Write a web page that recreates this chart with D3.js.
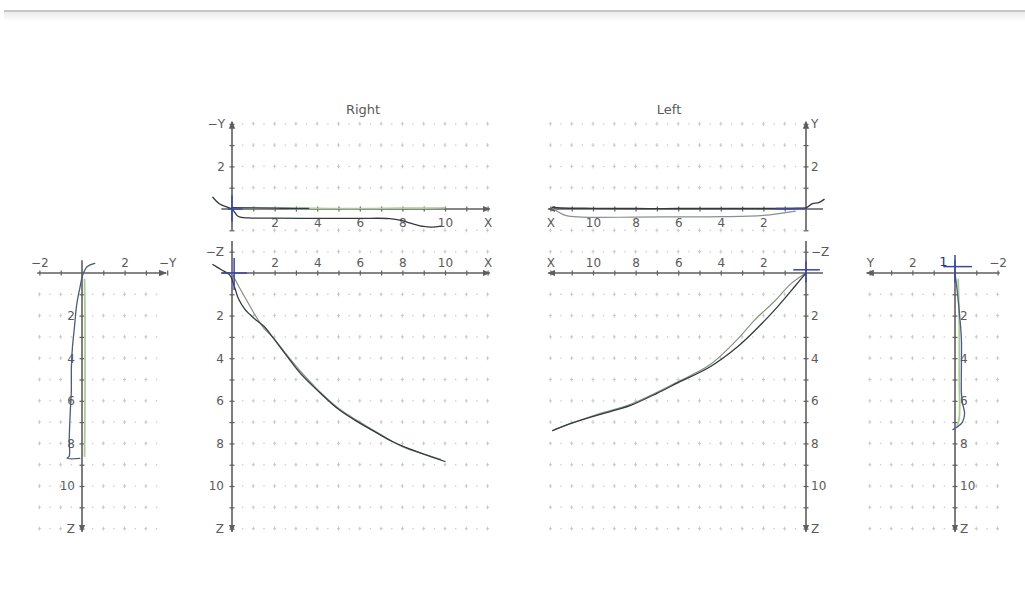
<!DOCTYPE html>
<html><head><meta charset="utf-8">
<script src="https://cdn.jsdelivr.net/npm/d3@7"></script>
<style>html,body{margin:0;padding:0;background:#fff;}svg{display:block;}</style>
</head><body>
<svg id="c" width="1025" height="613"></svg>
<script>
// ---------- data (panel units: h = horizontal coordinate, v = vertical coordinate) ----------
const titles = ["Right", "Left"];
// Right, X–Y view
const rightXY_dark_h = [-0.9,-0.6,-0.25,0,0.3,0.8,2,4,6,7.4,8.0,8.5,9.0,9.4,9.8];
const rightXY_dark_v = [0.55,0.25,0.1,0,-0.35,-0.42,-0.43,-0.44,-0.44,-0.45,-0.55,-0.7,-0.82,-0.85,-0.8];
const rightXY_green_h = [0,1,2,3,4,5,6,7,8,9,10];
const rightXY_green_v = [0.05,0.05,0.04,0.03,0.03,0.02,0.02,0.03,0.04,0.04,0.06];
const rightXY_dark2_h = [0,1,2,3,3.6];
const rightXY_dark2_v = [0.06,0.05,0.04,0.03,0.03];
const rightXY_cross_h = [0,0,-0.2,0.5];
const rightXY_cross_v = [0.65,-0.6,0,0];
// Left, X–Y view
const leftXY_dark_h = [11.9,11.5,10,8,6,4,2,1,0.3,0,-0.3,-0.6,-0.85];
const leftXY_dark_v = [0.08,0.05,0.03,0.02,0.02,0.02,0.02,0.02,0.03,0.05,0.25,0.3,0.45];
const leftXY_light_h = [11.9,11.3,10.5,8,6,4,2,0.5];
const leftXY_light_v = [0.05,-0.3,-0.38,-0.38,-0.37,-0.36,-0.3,-0.1];
const leftXY_blue_h = [1.4,0.7,0];
const leftXY_blue_v = [0.02,0.02,0.03];
// Right, X–Z view
const rightXZ_dark_h = [-0.9,-0.5,-0.1,0.1,0.3,0.6,1.0,1.5,1.9,2.5,3.2,4.0,5.0,6.0,6.7,7.5,8.3,9.0,10.0];
const rightXZ_dark_v = [-0.4,-0.15,0.1,0.6,1.2,1.7,2.1,2.5,3.0,3.8,4.7,5.5,6.4,7.05,7.45,7.9,8.25,8.5,8.85];
const rightXZ_green_h = [0,0.3,0.7,1.1,1.5,1.9,2.5,3.2,4.0,5,6,7,8,9,9.8];
const rightXZ_green_v = [0,0.6,1.3,2.0,2.6,3.0,3.75,4.6,5.45,6.35,7.0,7.6,8.15,8.5,8.75];
const rightXZ_cross_h = [0.1,0.1,-0.5,0.7];
const rightXZ_cross_v = [-0.7,0.8,0,0];
// Left, X–Z view
const leftXZ_dark_h = [0,0.5,1.35,2.2,3.2,4.5,6.0,7.0,8.2,9.0,9.95,11.0,11.9];
const leftXZ_dark_v = [0,0.6,1.6,2.5,3.45,4.4,5.15,5.65,6.2,6.45,6.72,7.05,7.4];
const leftXZ_green_h = [0,0.7,1.5,2.4,3.3,4.5,6.0,8.2,10.0,11.8];
const leftXZ_green_v = [0,0.5,1.35,2.2,3.2,4.3,5.1,6.15,6.7,7.35];
const leftXZ_cross_h = [0.6,-0.65,0,0];
const leftXZ_cross_v = [-0.15,-0.15,-0.55,0.45];
// Right, side (−Y / Z) view
const rightYZ_dark_h = [0.6,0.25,0.05,-0.1,-0.25,-0.35,-0.45,-0.5,-0.5,-0.55,-0.6,-0.6,-0.7,-0.1];
const rightYZ_dark_v = [-0.45,-0.3,0.05,0.7,1.5,2.5,3.5,4.5,5.5,6.5,7.8,8.6,8.7,8.7];
const rightYZ_green_h = [0.12,0.14,0.14,0.14,0.12];
const rightYZ_green_v = [0.3,2,4,6,8.6];
// Left, side (Y / Z) view
const leftYZ_dark_h = [0,-0.1,-0.2,-0.3,-0.3,-0.3,-0.35,-0.45,-0.35,-0.15,0.1];
const leftYZ_dark_v = [0,0.8,1.8,3.1,4.5,5.6,6.1,6.6,7.0,7.2,7.35];
const leftYZ_green_h = [-0.15,-0.2,-0.2,-0.2,-0.1];
const leftYZ_green_v = [0.3,2.5,5,6.8,7.2];
const leftYZ_cross_h = [0.55,-0.8,0,0];
const leftYZ_cross_v = [-0.3,-0.3,-0.85,0.45];
const sideMarker = "1";

// tick labels
const ticksLong = [1,2,3,4,5,6,7,8,9,10,11,12];
const labelsLong = {2:"2",4:"4",6:"6",8:"8",10:"10"};

// ---------- drawing ----------
const svg = d3.select("#c");
const K = 21.3;
const FONT = "'DejaVu Sans', Verdana, sans-serif";
const AXC = "#5e5e5e", TXT = "#5a5a5a", GRID = "#c8c8c8";
const DARK = "#333a40", GREEN = "#a9cc95", BLUE = "#3a46a8", LIGHT = "#8a8f94";

// top frame line
const defs = svg.append("defs");
const lg = defs.append("linearGradient").attr("id","fade").attr("x1",0).attr("y1",0).attr("x2",0).attr("y2",1);
lg.append("stop").attr("offset",0).attr("stop-color","#ececec");
lg.append("stop").attr("offset",1).attr("stop-color","#ffffff");
svg.append("rect").attr("x",4).attr("y",12).attr("width",1021).attr("height",10).attr("fill","url(#fade)");
svg.append("line").attr("x1",4).attr("x2",1025).attr("y1",11).attr("y2",11).attr("stroke","#b4b4b4").attr("stroke-width",1.6);

const mk = defs.append("marker").attr("id","arr").attr("viewBox","0 0 10 10").attr("refX",9).attr("refY",5)
  .attr("markerWidth",5).attr("markerHeight",5).attr("orient","auto");
mk.append("path").attr("d","M0,1 L10,5 L0,9 Z").attr("fill",AXC);

function zip(a,b){ return a.map((d,i)=>[d,b[i]]); }

function panel(cfg){
  const hs = d3.scaleLinear().domain([0,1]).range([cfg.ox, cfg.ox + cfg.sx*K]);
  const vs = d3.scaleLinear().domain([0,1]).range([cfg.oy, cfg.oy + cfg.sy*K]);
  const g = svg.append("g");
  // grid
  const gg = g.append("g");
  cfg.gridRows.forEach(r=>{
    for(let h=cfg.gridH[0]; h<=cfg.gridH[1]+1e-9; h+=0.5){
      if (Math.abs(h)<1e-9) continue;
      const x = hs(h), y = vs(r);
      if (Math.abs(h-Math.round(h))<1e-9){
        gg.append("line").attr("x1",x).attr("x2",x).attr("y1",y-2).attr("y2",y+2).attr("stroke",GRID).attr("stroke-width",1);
        gg.append("line").attr("x1",x-1.5).attr("x2",x+1.5).attr("y1",y).attr("y2",y).attr("stroke",GRID).attr("stroke-width",1);
      } else {
        gg.append("rect").attr("x",x-0.6).attr("y",y-0.6).attr("width",1.3).attr("height",1.3).attr("fill",GRID);
      }
    }
  });
  // axis lines
  const hEnd = cfg.hRange[1], vEnd = cfg.vArrowEnd;
  g.append("line").attr("x1",hs(cfg.hRange[0])).attr("x2",hs(hEnd)).attr("y1",vs(0)).attr("y2",vs(0))
    .attr("stroke",AXC).attr("stroke-width",1.6).attr("marker-end","url(#arr)");
  g.append("line").attr("x1",hs(0)).attr("x2",hs(0))
    .attr("y1",vs(cfg.vRange[0]===vEnd?cfg.vRange[1]:cfg.vRange[0])).attr("y2",vs(vEnd))
    .attr("stroke",AXC).attr("stroke-width",1.6).attr("marker-end","url(#arr)");
  // horizontal axis (labels)
  const hAx = (cfg.hSide==="below"? d3.axisBottom(hs) : d3.axisTop(hs))
    .tickValues(cfg.hTicks).tickSize(3).tickPadding(cfg.hPad).tickFormat(d=>cfg.hLabels[d]||"");
  const ha = g.append("g").attr("transform",`translate(0,${vs(0)})`).call(hAx);
  ha.select(".domain").remove();
  ha.selectAll(".tick line").attr("y1",-2.5).attr("y2",2.5).attr("stroke",AXC).attr("stroke-width",1.2);
  ha.selectAll(".tick text").attr("fill",TXT).attr("font-size",12).attr("font-family",FONT);
  // vertical axis (labels)
  const vAx = (cfg.vSide==="left"? d3.axisLeft(vs) : d3.axisRight(vs))
    .tickValues(cfg.vTicks).tickSize(3).tickPadding(cfg.vPad).tickFormat(d=>cfg.vLabels[d]||"");
  const va = g.append("g").attr("transform",`translate(${hs(0)},0)`).call(vAx);
  va.select(".domain").remove();
  va.selectAll(".tick line").attr("x1",-2.5).attr("x2",2.5).attr("stroke",AXC).attr("stroke-width",1.2);
  va.selectAll(".tick text").attr("fill",TXT).attr("font-size",12).attr("font-family",FONT);
  // traces
  const line = d3.line().x(d=>hs(d[0])).y(d=>vs(d[1])).curve(d3.curveCatmullRom.alpha(0.5));
  cfg.traces.forEach(t=>{
    g.append("path").attr("d",line(zip(t.h,t.v))).attr("fill","none").attr("stroke",t.color)
      .attr("stroke-width",t.w||1.3).attr("stroke-linejoin","round").attr("stroke-linecap","round");
  });
  if (cfg.cross){
    const c = cfg.cross;
    g.append("line").attr("x1",hs(c.h[0])).attr("y1",vs(c.v[0])).attr("x2",hs(c.h[1])).attr("y2",vs(c.v[1])).attr("stroke",BLUE).attr("stroke-width",1.5);
    g.append("line").attr("x1",hs(c.h[2])).attr("y1",vs(c.v[2])).attr("x2",hs(c.h[3])).attr("y2",vs(c.v[3])).attr("stroke",BLUE).attr("stroke-width",1.5);
  }
  return {hs,vs,g};
}

// Right X-Y (top)
panel({ox:232, oy:209, sx:1, sy:-1, hRange:[-0.5,12.1], vRange:[-1,4.1], vArrowEnd:4.1,
  gridRows:[-1,1,2,3,4], gridH:[0.5,12],
  hSide:"below", hPad:6, hTicks:ticksLong, hLabels:Object.assign({},labelsLong,{12:"X"}),
  vSide:"left", vPad:4, vTicks:[-1,1,2,3,4], vLabels:{2:"2",4:"−Y"},
  traces:[{h:rightXY_green_h,v:rightXY_green_v,color:GREEN,w:1.6},
          {h:rightXY_dark2_h,v:rightXY_dark2_v,color:DARK},
          {h:rightXY_dark_h,v:rightXY_dark_v,color:DARK}],
  cross:{h:rightXY_cross_h,v:rightXY_cross_v}});

// Left X-Y (top)
panel({ox:806, oy:209, sx:-1, sy:-1, hRange:[-0.8,12.1], vRange:[-1,4.1], vArrowEnd:4.1,
  gridRows:[-1,1,2,3,4], gridH:[0.5,12],
  hSide:"below", hPad:6, hTicks:ticksLong, hLabels:Object.assign({},labelsLong,{12:"X"}),
  vSide:"right", vPad:2, vTicks:[-1,1,2,3,4], vLabels:{2:"2",4:"Y"},
  traces:[{h:leftXY_light_h,v:leftXY_light_v,color:LIGHT,w:1.2},
          {h:leftXY_dark_h,v:leftXY_dark_v,color:DARK,w:1.4},
          {h:leftXY_blue_h,v:leftXY_blue_v,color:BLUE,w:1.8}]});

// Right X-Z (bottom)
panel({ox:232, oy:273, sx:1, sy:1, hRange:[-0.5,12.1], vRange:[-1.5,12.15], vArrowEnd:12.15,
  gridRows:[-1,1,2,3,4,5,6,7,8,9,10,11,12], gridH:[0.5,12],
  hSide:"above", hPad:3, hTicks:ticksLong, hLabels:Object.assign({},labelsLong,{12:"X"}),
  vSide:"left", vPad:5, vTicks:[-1,1,2,3,4,5,6,7,8,9,10,11,12], vLabels:{"-1":"−Z",2:"2",4:"4",6:"6",8:"8",10:"10",12:"Z"},
  traces:[{h:rightXZ_green_h,v:rightXZ_green_v,color:"#86927f",w:1.2},
          {h:rightXZ_dark_h,v:rightXZ_dark_v,color:DARK,w:1.3}],
  cross:{h:rightXZ_cross_h,v:rightXZ_cross_v}});

// Left X-Z (bottom)
panel({ox:806, oy:273, sx:-1, sy:1, hRange:[-0.8,12.1], vRange:[-1.5,12.15], vArrowEnd:12.15,
  gridRows:[-1,1,2,3,4,5,6,7,8,9,10,11,12], gridH:[0.5,12],
  hSide:"above", hPad:3, hTicks:ticksLong, hLabels:Object.assign({},labelsLong,{12:"X"}),
  vSide:"right", vPad:2, vTicks:[-1,1,2,3,4,5,6,7,8,9,10,11,12], vLabels:{"-1":"−Z",2:"2",4:"4",6:"6",8:"8",10:"10",12:"Z"},
  traces:[{h:leftXZ_green_h,v:leftXZ_green_v,color:"#86927f",w:1.2},
          {h:leftXZ_dark_h,v:leftXZ_dark_v,color:DARK,w:1.3}],
  cross:{h:leftXZ_cross_h,v:leftXZ_cross_v}});

// Side view left of figure
panel({ox:82, oy:273, sx:1, sy:1, hRange:[-2.1,3.95], vRange:[-0.6,12.15], vArrowEnd:12.15,
  gridRows:[1,2,3,4,5,6,7,8,9,10,11,12], gridH:[-2,3.5],
  hSide:"above", hPad:3, hTicks:[-2,-1,1,2,3,4], hLabels:{"-2":"−2",2:"2",4:"−Y"},
  vSide:"left", vPad:4, vTicks:[1,2,3,4,5,6,7,8,9,10,11,12], vLabels:{2:"2",4:"4",6:"6",8:"8",10:"10",12:"Z"},
  traces:[{h:rightYZ_green_h,v:rightYZ_green_v,color:GREEN,w:1.8},
          {h:rightYZ_dark_h,v:rightYZ_dark_v,color:"#4d5a7a",w:1.3}]});

// Side view right of figure
const pF = panel({ox:955, oy:273, sx:-1, sy:1, hRange:[-2.1,4.15], vRange:[-0.6,12.15], vArrowEnd:12.15,
  gridRows:[1,2,3,4,5,6,7,8,9,10,11,12], gridH:[-2,4],
  hSide:"above", hPad:3, hTicks:[-2,-1,1,2,3,4], hLabels:{"-2":"−2",2:"2",4:"Y"},
  vSide:"right", vPad:2, vTicks:[1,2,3,4,5,6,7,8,9,10,11,12], vLabels:{2:"2",4:"4",6:"6",8:"8",10:"10",12:"Z"},
  traces:[{h:leftYZ_green_h,v:leftYZ_green_v,color:GREEN,w:1.8},
          {h:leftYZ_dark_h,v:leftYZ_dark_v,color:"#4d5a88",w:1.3}],
  cross:{h:leftYZ_cross_h,v:leftYZ_cross_v}});
pF.g.append("text").attr("x",pF.hs(0.55)).attr("y",pF.vs(-0.35)).attr("text-anchor","middle")
  .attr("font-size",13).attr("font-family",FONT).attr("fill","#2a3470").text(sideMarker);

// titles
svg.append("text").attr("x",363).attr("y",114).attr("text-anchor","middle").attr("font-size",13)
  .attr("font-family",FONT).attr("fill",TXT).text(titles[0]);
svg.append("text").attr("x",669).attr("y",114).attr("text-anchor","middle").attr("font-size",13)
  .attr("font-family",FONT).attr("fill",TXT).text(titles[1]);
</script>
</body></html>
